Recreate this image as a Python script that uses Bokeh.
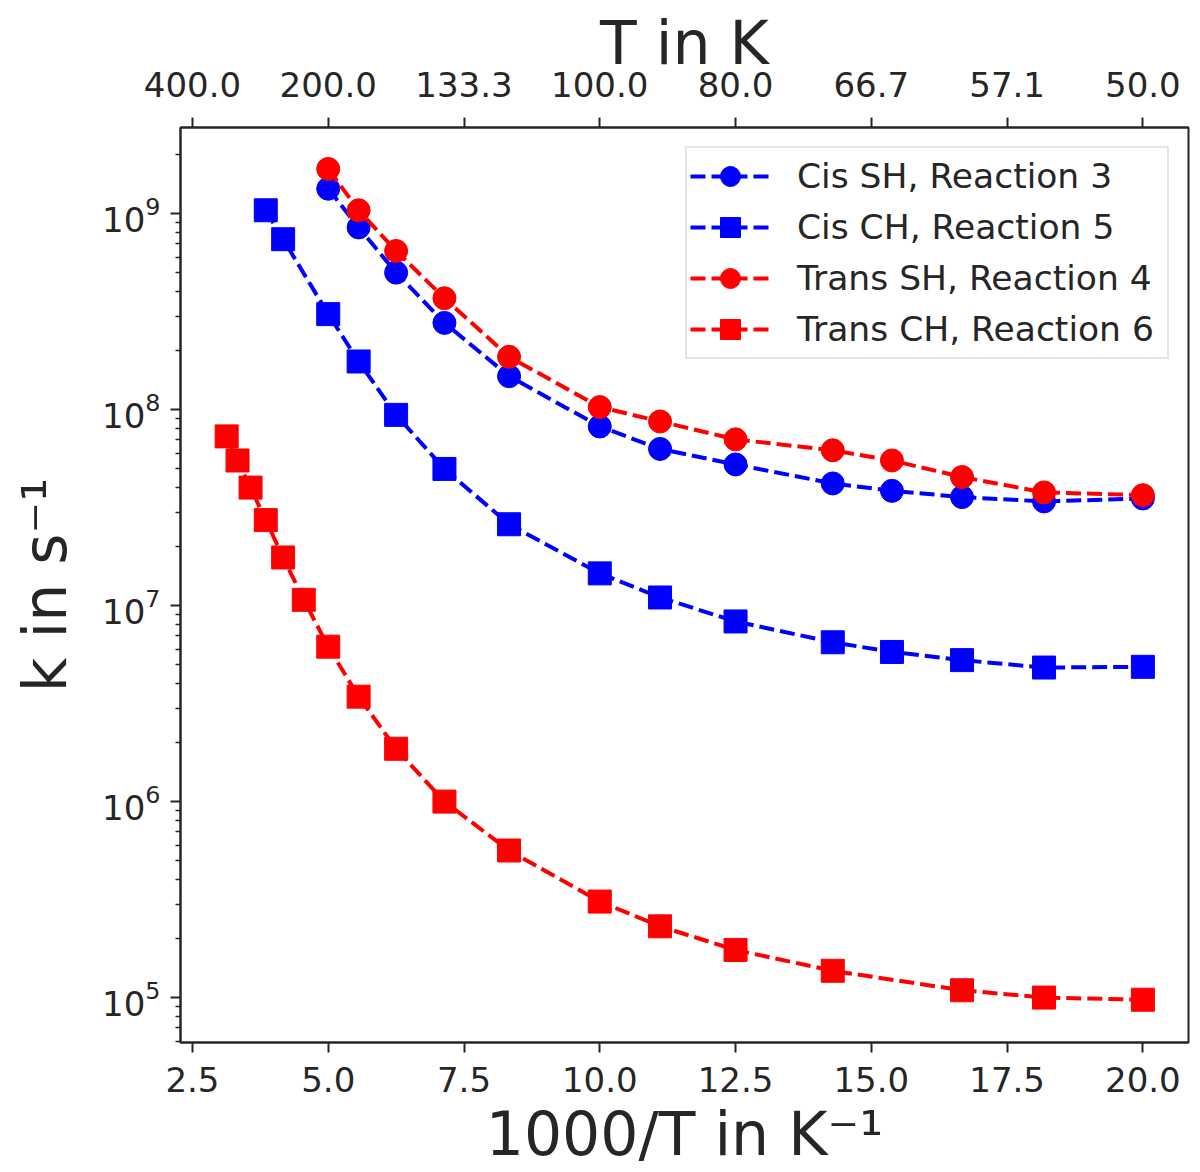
from bokeh.embed import file_html
from bokeh.models import FixedTicker, Legend, LegendItem, LinearAxis, NumeralTickFormatter, Range1d
from bokeh.plotting import figure
from bokeh.resources import INLINE

# 1000/T in K^-1 and rate constants k in s^-1
cis_sh_x = [5.0, 5.56, 6.25, 7.14, 8.33, 10.0, 11.11, 12.5, 14.29, 15.38, 16.67, 18.18, 20.0]
cis_sh_k = [1.34e9, 8.5e8, 5.0e8, 2.77e8, 1.48e8, 8.2e7, 6.3e7, 5.25e7, 4.2e7, 3.85e7, 3.58e7, 3.4e7, 3.52e7]

trans_sh_x = [5.0, 5.56, 6.25, 7.14, 8.33, 10.0, 11.11, 12.5, 14.29, 15.38, 16.67, 18.18, 20.0]
trans_sh_k = [1.69e9, 1.04e9, 6.45e8, 3.7e8, 1.86e8, 1.03e8, 8.7e7, 7.05e7, 6.2e7, 5.5e7, 4.53e7, 3.78e7, 3.66e7]

cis_ch_x = [3.85, 4.17, 5.0, 5.56, 6.25, 7.14, 8.33, 10.0, 11.11, 12.5, 14.29, 15.38, 16.67, 18.18, 20.0]
cis_ch_k = [1.04e9, 7.4e8, 3.07e8, 1.76e8, 9.4e7, 4.98e7, 2.6e7, 1.46e7, 1.1e7, 8.3e6, 6.5e6, 5.8e6, 5.27e6, 4.83e6, 4.87e6]

trans_ch_x = [3.13, 3.33, 3.57, 3.85, 4.17, 4.55, 5.0, 5.56, 6.25, 7.14, 8.33, 10.0, 11.11, 12.5, 14.29, 16.67, 18.18, 20.0]
trans_ch_k = [7.3e7, 5.5e7, 4.0e7, 2.73e7, 1.76e7, 1.07e7, 6.17e6, 3.43e6, 1.86e6, 1.0e6, 5.63e5, 3.09e5, 2.31e5, 1.75e5, 1.37e5, 1.09e5, 1.0e5, 9.75e4]

x_ticks = [2.5, 5.0, 7.5, 10.0, 12.5, 15.0, 17.5, 20.0]
t_tick_labels = ["400.0", "200.0", "133.3", "100.0", "80.0", "66.7", "57.1", "50.0"]
k_ticks = [1e5, 1e6, 1e7, 1e8, 1e9]

series = [
    ("Cis SH, Reaction 3", cis_sh_x, cis_sh_k, "#0000ff", "circle"),
    ("Cis CH, Reaction 5", cis_ch_x, cis_ch_k, "#0000ff", "square"),
    ("Trans SH, Reaction 4", trans_sh_x, trans_sh_k, "#ff0000", "circle"),
    ("Trans CH, Reaction 6", trans_ch_x, trans_ch_k, "#ff0000", "square"),
]

FONT = "DejaVu Sans"
INK = "#262626"

p = figure(
    width=1192,
    height=1171,
    x_range=Range1d(2.28, 20.84),
    y_range=Range1d(5.9e4, 2.75e9),
    y_axis_type="log",
    output_backend="svg",
    toolbar_location=None,
    min_border_left=180,
    min_border_top=127,
    min_border_right=4,
    min_border_bottom=124,
)
p.grid.visible = False
p.outline_line_color = INK
p.outline_line_width = 2

items = []
for name, xs, ks, color, marker in series:
    ln = p.line(xs, ks, line_color=color, line_width=4, line_dash="15 6")
    sc = p.scatter(xs, ks, marker=marker, size=23, fill_color=color, line_color=color)
    items.append(LegendItem(label=name, renderers=[ln, sc]))

legend = Legend(items=items, location="top_right")
legend.margin = 19
legend.padding = 3
legend.spacing = 1
legend.glyph_width = 80
legend.glyph_height = 50
legend.label_height = 50
legend.label_width = 367
legend.label_standoff = 27
legend.label_text_font = FONT
legend.label_text_font_size = "34.5px"
legend.label_text_color = INK
legend.border_line_color = "#cccccc"
legend.border_line_width = 2
legend.background_fill_alpha = 0.8
p.add_layout(legend)

bottom = p.below[0]
top = LinearAxis(axis_label="T in K")
p.add_layout(top, "above")

for ax in (bottom, top):
    ax.ticker = FixedTicker(ticks=x_ticks)
for ax in (bottom, top, p.yaxis[0]):
    ax.axis_line_color = INK
    ax.axis_line_width = 2
    ax.major_tick_line_color = INK
    ax.major_tick_line_width = 2
    ax.major_tick_in = 0
    ax.major_tick_out = 10
    ax.minor_tick_line_color = INK
    ax.minor_tick_line_width = 1.5
    ax.minor_tick_in = 0
    ax.minor_tick_out = 5
    ax.major_label_text_font = FONT
    ax.major_label_text_font_size = "34px"
    ax.major_label_text_color = INK
    ax.axis_label_text_font = FONT
    ax.axis_label_text_font_size = "60px"
    ax.axis_label_text_font_style = "normal"
    ax.axis_label_text_color = INK

bottom.formatter = NumeralTickFormatter(format="0.0")
bottom.axis_label = "1000/T in K⁻¹"
bottom.major_label_standoff = 14
bottom.axis_label_standoff = 4
top.major_label_overrides = dict(zip(x_ticks, t_tick_labels))
top.major_label_standoff = 21
top.axis_label_standoff = -9

minor = [m * 10.0 ** e for e in range(4, 10) for m in range(2, 10) if 5.9e4 <= m * 10.0 ** e <= 2.75e9]
p.yaxis[0].ticker = FixedTicker(ticks=k_ticks, minor_ticks=minor)
p.yaxis[0].axis_label = "k in s⁻¹"
p.yaxis[0].major_label_standoff = 10
p.yaxis[0].axis_label_standoff = 19

open("out.html", "w").write(file_html(p, INLINE))
